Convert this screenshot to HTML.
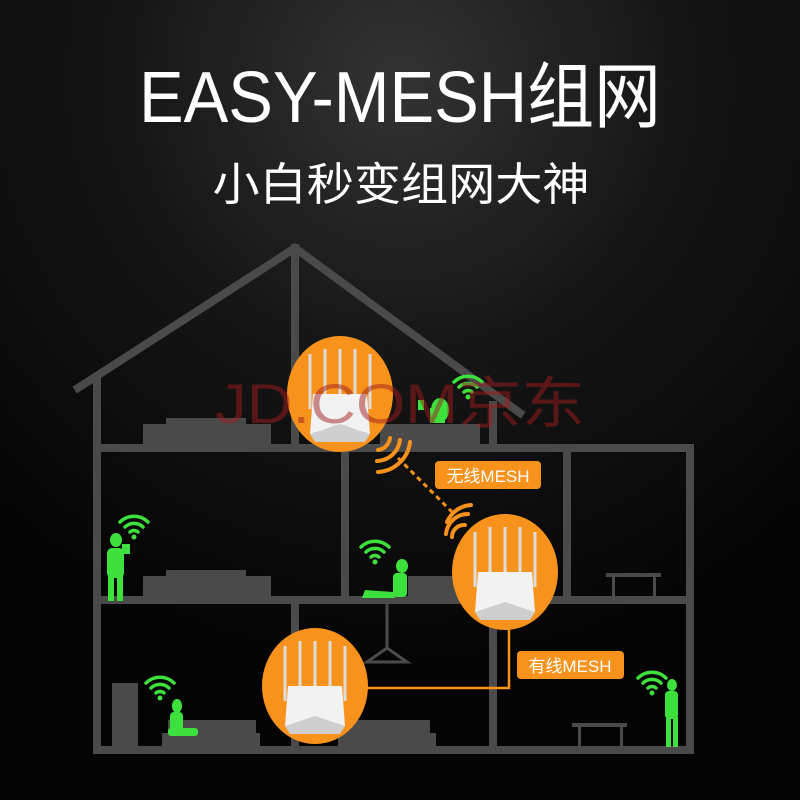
<!DOCTYPE html>
<html><head><meta charset="utf-8"><style>
html,body{margin:0;padding:0;background:#000;}
svg{display:block}
text{font-family:"Liberation Sans","Noto Sans CJK SC",sans-serif;}
</style></head><body>
<svg width="800" height="800" viewBox="0 0 800 800" xmlns="http://www.w3.org/2000/svg">
<defs>
<radialGradient id="bg" cx="0.5" cy="0.1" r="0.75">
<stop offset="0" stop-color="#333"/><stop offset="0.45" stop-color="#161616"/><stop offset="1" stop-color="#040404"/>
</radialGradient>
<g id="router">
<ellipse cx="0" cy="0" rx="53" ry="58" fill="#f7921c"/>
<g stroke="#ddd" stroke-width="3">
<line x1="-30" y1="-40" x2="-30" y2="15"/><line x1="-15" y1="-45" x2="-15" y2="5"/><line x1="0" y1="-45" x2="0" y2="5"/><line x1="15" y1="-45" x2="15" y2="5"/><line x1="30" y1="-40" x2="30" y2="15"/>
</g>
<polygon points="-27,0 27,0 30,40 -30,40" fill="#f2f2f2"/>
<polygon points="-30,40 0,30 30,40 25,48 -25,48" fill="#cfcfcf"/>
</g>
<g id="wifi" fill="none" stroke="#3ee03e" stroke-width="3.5" stroke-linecap="round">
<path d="M-14,-6 A20,20 0 0 1 14,-6"/><path d="M-9,-1 A13,13 0 0 1 9,-1"/><path d="M-4,4 A6,6 0 0 1 4,4"/>
<circle cx="0" cy="9" r="2.5" fill="#3ee03e" stroke="none"/>
</g>
</defs>
<rect width="800" height="800" fill="url(#bg)"/>
<text x="400" y="122" fill="#fff" font-size="72" text-anchor="middle" textLength="522" lengthAdjust="spacingAndGlyphs">EASY-MESH组网</text>
<text x="401" y="200" fill="#fff" font-size="45" text-anchor="middle" textLength="377" lengthAdjust="spacingAndGlyphs">小白秒变组网大神</text>

<g stroke="#4a4a4a" stroke-width="8" fill="none" stroke-linecap="square">
<polyline points="78,388 295,248 520,413"/>
<line x1="295" y1="248" x2="295" y2="448"/>
<line x1="97" y1="378" x2="97" y2="750"/>
<line x1="493" y1="405" x2="493" y2="448"/>
<line x1="97" y1="448" x2="690" y2="448"/>
<line x1="690" y1="448" x2="690" y2="750"/>
<line x1="97" y1="600" x2="690" y2="600"/>
<line x1="97" y1="750" x2="690" y2="750"/>
<line x1="345" y1="448" x2="345" y2="600"/>
<line x1="567" y1="448" x2="567" y2="600"/>
<line x1="295" y1="600" x2="295" y2="750"/>
<line x1="493" y1="600" x2="493" y2="750"/>
</g>
<g fill="#4a4a4a">
<rect x="143" y="424" width="128" height="22"/><rect x="166" y="418" width="80" height="8"/>
<rect x="380" y="424" width="100" height="22"/>
<rect x="143" y="576" width="128" height="22"/><rect x="166" y="570" width="80" height="7"/>
<rect x="408" y="576" width="50" height="22"/>
<rect x="112" y="683" width="26" height="65"/>
<rect x="162" y="733" width="98" height="15"/><rect x="168" y="720" width="88" height="14"/>
<rect x="338" y="733" width="98" height="15"/><rect x="340" y="720" width="90" height="14"/>
<rect x="606" y="573" width="55" height="4"/><rect x="612" y="577" width="3" height="20"/><rect x="653" y="577" width="3" height="20"/>
<rect x="572" y="723" width="55" height="4"/><rect x="578" y="727" width="3" height="20"/><rect x="620" y="727" width="3" height="20"/>
</g>
<g stroke="#4a4a4a" stroke-width="3" fill="none"><line x1="387" y1="604" x2="387" y2="648"/><polygon points="387,648 367,662 407,662"/></g>

<!-- people -->
<g fill="#3ee03e">
<ellipse cx="116" cy="540" rx="6" ry="7"/><rect x="107" y="548" width="17" height="30" rx="5"/><rect x="108" y="575" width="6" height="26"/><rect x="117" y="575" width="6" height="26"/><rect x="122" y="544" width="8" height="10"/>
<ellipse cx="402" cy="566" rx="6" ry="7"/><rect x="393" y="573" width="14" height="24" rx="4"/><polygon points="393,592 365,590 362,598 395,598"/>
<ellipse cx="440" cy="410" rx="9" ry="12"/><rect x="430" y="408" width="15" height="15"/><rect x="418" y="400" width="6" height="10"/>
<ellipse cx="177" cy="706" rx="5" ry="7"/><rect x="170" y="712" width="13" height="20" rx="4"/><rect x="168" y="728" width="30" height="8" rx="3"/>
<ellipse cx="672" cy="685" rx="5" ry="6"/><rect x="665" y="691" width="13" height="28" rx="4"/><rect x="666" y="717" width="5" height="30"/><rect x="673" y="717" width="5" height="30"/>
</g>
<use href="#wifi" x="134" y="528"/>
<use href="#wifi" x="375" y="553"/>
<use href="#wifi" x="468" y="388"/>
<use href="#wifi" x="160" y="689"/>
<use href="#wifi" x="652" y="684"/>

<!-- connectors -->
<line x1="398" y1="458" x2="452" y2="512" stroke="#f7921c" stroke-width="3" stroke-dasharray="5,4"/>
<polyline points="360,688 509,688 509,622" fill="none" stroke="#f7921c" stroke-width="2.5"/>
<g fill="none" stroke="#f7921c" stroke-width="4" stroke-linecap="round">
<path d="M378,450 A14,14 0 0 0 390,438"/><path d="M377,461 A24,24 0 0 0 400,440"/><path d="M378,472 A34,34 0 0 0 410,442"/>
<path d="M452,537 A12,12 0 0 1 465,525"/><path d="M446,534 A22,22 0 0 1 468,514"/><path d="M447,522 A28,28 0 0 1 471,505"/>
</g>

<use href="#router" x="340" y="394"/>
<use href="#router" x="505" y="572"/>
<use href="#router" x="315" y="686"/>

<text x="400" y="423" fill="#a01c1c" fill-opacity="0.5" font-size="56" text-anchor="middle" textLength="370" lengthAdjust="spacingAndGlyphs">JD.COM京东</text>

<rect x="435" y="461" width="106" height="28" rx="4" fill="#f7921c"/>
<text x="488" y="482" fill="#fff" font-size="17" text-anchor="middle">无线MESH</text>
<rect x="517" y="651" width="107" height="28" rx="4" fill="#f7921c"/>
<text x="570" y="672" fill="#fff" font-size="17" text-anchor="middle">有线MESH</text>
</svg>
</body></html>
